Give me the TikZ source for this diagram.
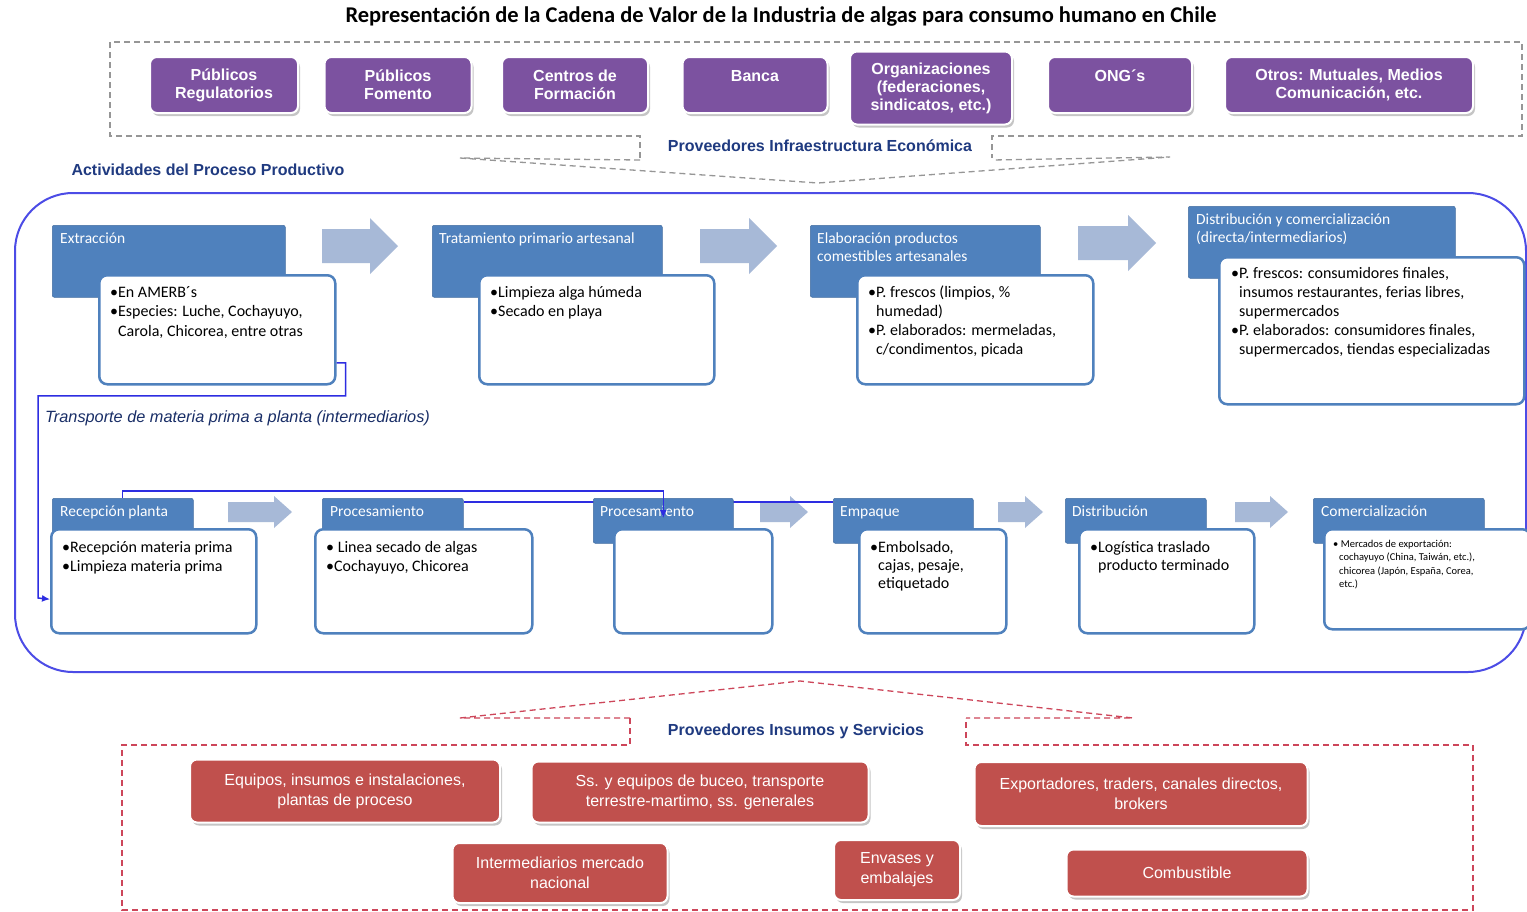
\documentclass[tikz,border=0pt]{standalone}
\usepackage{fontspec}
\setmainfont{Carlito}
\newfontfamily\arialfont{Liberation Sans}
\usetikzlibrary{arrows.meta,shadows,backgrounds}

\definecolor{purplebox}{RGB}{124,82,160}
\definecolor{redbox}{RGB}{192,80,77}
\definecolor{stepblue}{RGB}{79,129,189}
\definecolor{arrowblue}{RGB}{167,185,215}
\definecolor{linkblue}{RGB}{45,45,225}
\definecolor{labelblue}{RGB}{31,58,128}
\definecolor{framegray}{RGB}{150,150,150}
\definecolor{framered}{RGB}{205,70,90}

\tikzset{
	purplenode/.style={fill=purplebox, draw=white, line width=2pt, rounded corners=7pt, text=white, align=center,
		font=\arialfont\bfseries\fontsize{16}{18}\selectfont,
		drop shadow={shadow xshift=2pt, shadow yshift=-3pt, opacity=0.45}},
	rednode/.style={purplenode, fill=redbox, font=\arialfont\fontsize{16}{20}\selectfont},
	stephead/.style={fill=stepblue, draw=stepblue!85!black, line width=0.5pt, rounded corners=2pt, anchor=north west},
	stepbox/.style={fill=white, draw=stepblue, line width=2.5pt, rounded corners=8pt, anchor=north west},
	headtext/.style={text=white, anchor=north west, inner sep=0pt, align=left, font=\fontsize{15.5}{17.5}\selectfont},
	boxtext/.style={anchor=north west, inner sep=0pt, align=left, font=\fontsize{16}{19.5}\selectfont},
	blockarrow/.style={fill=arrowblue},
	link/.style={draw=linkblue, line width=1.5pt},
	grayframe/.style={draw=framegray, line width=1.3pt, dash pattern=on 6pt off 4pt},
	redframe/.style={draw=framered, line width=1.3pt, dash pattern=on 6pt off 4pt},
	grouplabel/.style={text=labelblue, font=\arialfont\bfseries\fontsize{16}{18}\selectfont}
}

\begin{document}
\begin{tikzpicture}[x=1pt,y=-1pt]
	\useasboundingbox (0,0) rectangle (1527,911);
	\node[font=\bfseries\fontsize{22.5}{26}\selectfont] (title) at (781,17) {Representación de la Cadena de Valor de la Industria de algas para consumo humano en Chile};
	% frames
	\draw[grayframe] (640,158) -- (640,136) -- (110,136) -- (110,42) -- (1522,42) -- (1522,136) -- (992,136) -- (992,158);
	\draw[grayframe] (640,160) -- (460,158) -- (818,183) -- (1170,157) -- (992,160);
	\draw[redframe] (630,718) -- (630,745) -- (122,745) -- (122,910) -- (1473,910) -- (1473,745) -- (966,745) -- (966,718);
	\draw[redframe] (630,718) -- (460,718) -- (800,681) -- (1133,718) -- (966,718);
	\draw[draw=linkblue!85!white, line width=2pt, rounded corners=58pt] (15,193) rectangle (1526,672);
	% top suppliers
	\node[purplenode, minimum width=148pt, minimum height=56pt] (pub1) at (224,85) {Públicos\\Regulatorios};
	\node[purplenode, minimum width=147pt, minimum height=56pt] (pub2) at (398,85) {Públicos\\Fomento};
	\node[purplenode, minimum width=146pt, minimum height=56pt] (centros) at (575,85) {Centros de\\Formación};
	\node[purplenode, minimum width=145pt, minimum height=56pt] (banca) at (755,85) {Banca\\\mbox{}};
	\node[purplenode, minimum width=162pt, minimum height=73pt] (org) at (931,88) {Organizaciones\\(federaciones,\\sindicatos, etc.)};
	\node[purplenode, minimum width=144pt, minimum height=56pt] (ong) at (1120,85) {ONG´s\\\mbox{}};
	\node[purplenode, minimum width=248pt, minimum height=56pt] (otros) at (1349,85) {Otros: Mutuales, Medios\\Comunicación, etc.};
	\node[grouplabel] (infra) at (820,146) {Proveedores Infraestructura Económica};
	\node[grouplabel, anchor=west] (act) at (68,170) {Actividades del Proceso Productivo};
	% artisanal chain
	\node[stephead, minimum width=233pt, minimum height=72pt] (h1) at (52,225) {};
	\node[headtext] (h1t) at ([shift={(8pt,-8pt)}]h1.north west) {Extracción};
	\node[stepbox, minimum width=236pt, minimum height=109pt] (b1) at (98,274) {};
	\node[boxtext] (b1t) at ([shift={(12pt,-12pt)}]b1.north west) {•En AMERB´s\\•Especies: Luche, Cochayuyo,\\\hspace*{8pt}Carola, Chicorea, entre otras};
	\node[stephead, minimum width=230pt, minimum height=72pt] (h2) at (432,225) {};
	\node[headtext] (h2t) at ([shift={(7pt,-8pt)}]h2.north west) {Tratamiento primario artesanal};
	\node[stepbox, minimum width=235pt, minimum height=109pt] (b2) at (478,274) {};
	\node[boxtext] (b2t) at ([shift={(12pt,-12pt)}]b2.north west) {•Limpieza alga húmeda\\•Secado en playa};
	\node[stephead, minimum width=230pt, minimum height=72pt] (h3) at (810,225) {};
	\node[headtext] (h3t) at ([shift={(7pt,-8pt)}]h3.north west) {Elaboración productos\\comestibles artesanales};
	\node[stepbox, minimum width=236pt, minimum height=109pt] (b3) at (856,274) {};
	\node[boxtext, font=\fontsize{16}{19}\selectfont] (b3t) at ([shift={(12pt,-12pt)}]b3.north west) {•P. frescos (limpios, \%\\\hspace*{8pt}humedad)\\•P. elaborados: mermeladas,\\\hspace*{8pt}c/condimentos, picada};
	\node[stephead, minimum width=267pt, minimum height=72pt] (h4) at (1188,206) {};
	\node[headtext] (h4t) at ([shift={(8pt,-8pt)}]h4.north west) {Distribución y comercialización\\(directa/intermediarios)};
	\node[stepbox, minimum width=305pt, minimum height=147pt] (b4) at (1218,256) {};
	\node[boxtext, font=\fontsize{16}{19}\selectfont] (b4t) at ([shift={(13pt,-11pt)}]b4.north west) {•P. frescos: consumidores finales,\\\hspace*{8pt}insumos restaurantes, ferias libres,\\\hspace*{8pt}supermercados\\•P. elaborados: consumidores finales,\\\hspace*{8pt}supermercados, tiendas especializadas};
	\node[anchor=west, inner sep=0pt, text=labelblue!80!black, font=\arialfont\itshape\fontsize{16.3}{19}\selectfont] (transp) at (45,418) {Transporte de materia prima a planta (intermediarios)};
	% plant chain
	\node[stephead, minimum width=141pt, minimum height=45pt] (rh1) at (52,498) {};
	\node[headtext] (rh1t) at ([shift={(8pt,-8pt)}]rh1.north west) {Recepción planta};
	\node[stepbox, minimum width=205pt, minimum height=104pt] (rb1) at (50,528) {};
	\node[boxtext] (rb1t) at ([shift={(12pt,-13pt)}]rb1.north west) {•Recepción materia prima\\•Limpieza materia prima};
	\node[stephead, minimum width=141pt, minimum height=45pt] (rh2) at (322,498) {};
	\node[headtext] (rh2t) at ([shift={(8pt,-8pt)}]rh2.north west) {Procesamiento};
	\node[stepbox, minimum width=217pt, minimum height=104pt] (rb2) at (314,528) {};
	\node[boxtext] (rb2t) at ([shift={(12pt,-13pt)}]rb2.north west) {• Linea secado de algas\\•Cochayuyo, Chicorea};
	\node[stephead, minimum width=140pt, minimum height=45pt] (rh3) at (593,498) {};
	\node[headtext] (rh3t) at ([shift={(7pt,-8pt)}]rh3.north west) {Procesamiento};
	\node[stepbox, minimum width=158pt, minimum height=104pt] (rb3) at (613,528) {};
	\node[stephead, minimum width=140pt, minimum height=45pt] (rh4) at (833,498) {};
	\node[headtext] (rh4t) at ([shift={(7pt,-8pt)}]rh4.north west) {Empaque};
	\node[stepbox, minimum width=147pt, minimum height=104pt] (rb4) at (858,528) {};
	\node[boxtext, font=\fontsize{16}{18}\selectfont] (rb4t) at ([shift={(12pt,-13pt)}]rb4.north west) {•Embolsado,\\\hspace*{8pt}cajas, pesaje,\\\hspace*{8pt}etiquetado};
	\node[stephead, minimum width=141pt, minimum height=45pt] (rh5) at (1065,498) {};
	\node[headtext] (rh5t) at ([shift={(7pt,-8pt)}]rh5.north west) {Distribución};
	\node[stepbox, minimum width=175pt, minimum height=104pt] (rb5) at (1078,528) {};
	\node[boxtext, font=\fontsize{16}{18}\selectfont] (rb5t) at ([shift={(12pt,-13pt)}]rb5.north west) {•Logística traslado\\\hspace*{8pt}producto terminado};
	\node[stephead, minimum width=171pt, minimum height=45pt] (rh6) at (1313,498) {};
	\node[headtext] (rh6t) at ([shift={(8pt,-8pt)}]rh6.north west) {Comercialización};
	\node[stepbox, minimum width=206pt, minimum height=100pt] (rb6) at (1323,528) {};
	\node[boxtext, font=\fontsize{10.5}{13.5}\selectfont] (rb6t) at ([shift={(10pt,-12pt)}]rb6.north west) {• Mercados de exportación:\\\hspace*{6pt}cochayuyo (China, Taiwán, etc.),\\\hspace*{6pt}chicorea (Japón, España, Corea,\\\hspace*{6pt}etc.)};
	% bottom suppliers
	\node[grouplabel] (insumos) at (796,731) {Proveedores Insumos y Servicios};
	\node[rednode, minimum width=310pt, minimum height=63pt] (equipos) at (345,791) {Equipos, insumos e instalaciones,\\plantas de proceso};
	\node[rednode, minimum width=337pt, minimum height=61pt] (buceo) at (700,792) {Ss. y equipos de buceo, transporte\\terrestre-martimo, ss. generales};
	\node[rednode, minimum width=333pt, minimum height=64pt] (export) at (1141,794) {Exportadores, traders, canales directos,\\brokers};
	\node[rednode, minimum width=215pt, minimum height=60pt] (interm) at (560,873) {Intermediarios mercado\\nacional};
	\node[rednode, minimum width=126pt, minimum height=60pt] (envases) at (897,870) {Envases y\\embalajes};
	\node[rednode, minimum width=241pt, minimum height=47pt] (combust) at (1187,873) {Combustible};
	% links
	\draw[link, -{Latex[length=8pt,width=7pt]}] ([yshift=-33pt]b1.east) -| ++(9,33) -| (38,598) -- ([yshift=-18pt]rb1.west);
	\draw[link, line width=1.2pt, -{Latex[length=8pt,width=7pt]}] (rh1.north) -- ++(0,-7) -| ([yshift=-20pt]rh3.north);
	\begin{pgfonlayer}{background}
		\fill[white] (0,0) rectangle (1527,911);
		\foreach \xa/\xb/\yc/\hh/\bh/\hl in {322/398/246/28/17/28, 700/777/246/28/17/28, 1078/1156/243/28/17/28, 228/292/512/16/10/18, 760/808/512/16/10/18, 998/1043/512/16/10/18, 1235/1288/512/16/10/18}
			\fill[blockarrow] (\xa,{\yc-\bh}) -- ({\xb-\hl},{\yc-\bh}) -- ({\xb-\hl},{\yc-\hh}) -- (\xb,\yc) -- ({\xb-\hl},{\yc+\hh}) -- ({\xb-\hl},{\yc+\bh}) -- (\xa,{\yc+\bh}) -- cycle;
		\draw[link, line width=1.2pt] ([yshift=-4pt]rh2.north east) -- ([yshift=-4pt]rh4.north west);
	\end{pgfonlayer}
\end{tikzpicture}
\end{document}
